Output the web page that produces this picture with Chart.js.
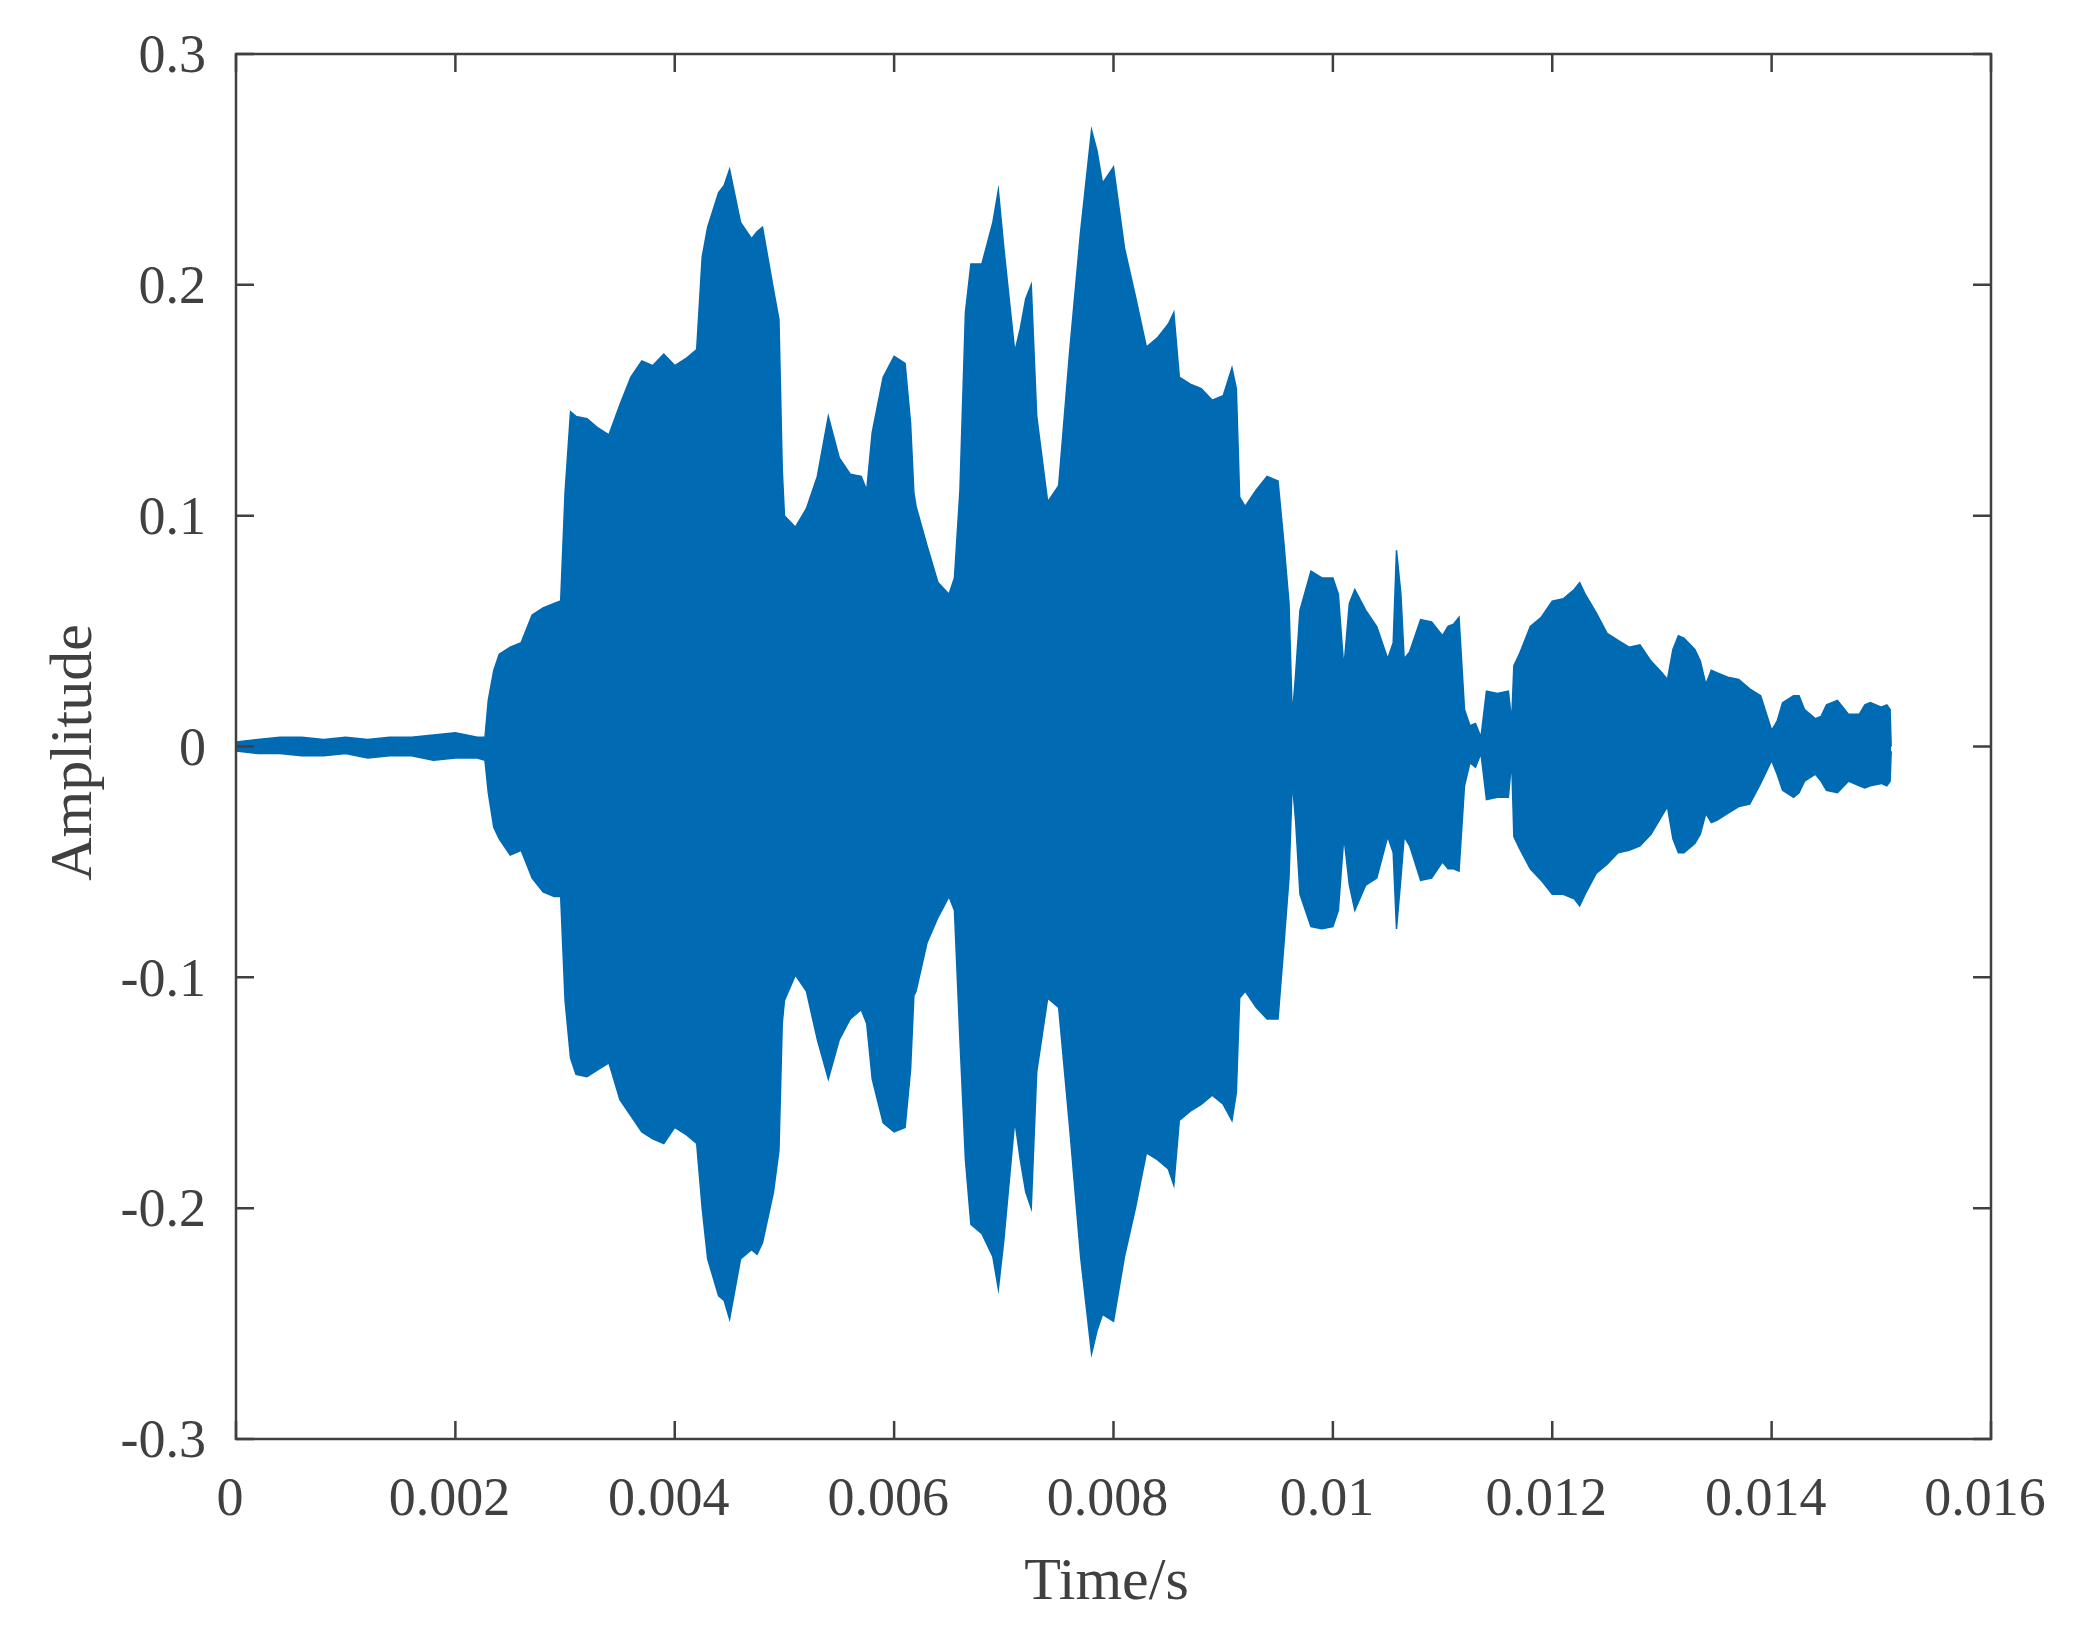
<!DOCTYPE html>
<html>
<head>
<meta charset="utf-8">
<script src="https://cdn.jsdelivr.net/npm/chart.js@4/dist/chart.umd.min.js"></script>
<style>
  html, body { margin: 0; padding: 0; background: #ffffff; }
  canvas { display: block; }
</style>
</head>
<body>
<canvas id="c" width="2091" height="1650"></canvas>
<script>
// Time instants (s) at which the waveform envelope was read
const times = [
  0.0000, 0.0002, 0.0004, 0.0006, 0.0008, 0.0010, 0.0012, 0.0014, 0.0016, 0.0018, 0.0020, 0.0022, 0.00227,
  0.0023, 0.00235, 0.0024, 0.0025, 0.0026, 0.0027, 0.0028, 0.0029, 0.00296, 0.0030, 0.00305,
  0.0031, 0.0032, 0.0033, 0.0034, 0.0035, 0.0036, 0.0037, 0.0038, 0.0039, 0.0040, 0.0041, 0.0042,
  0.00425, 0.0043, 0.0044, 0.00445, 0.0045, 0.0046, 0.0047, 0.00475, 0.0048, 0.0049, 0.00495, 0.00498,
  0.0050, 0.0051, 0.0052, 0.0053, 0.0054, 0.0055, 0.0056, 0.0057, 0.00575, 0.0058, 0.0059, 0.0060,
  0.0061, 0.00615, 0.00618, 0.0062, 0.0063, 0.0064, 0.0065, 0.00655, 0.0066, 0.00665, 0.0067, 0.0068,
  0.0069, 0.00695, 0.0070, 0.0071, 0.00715, 0.0072, 0.00725, 0.0073, 0.0074, 0.0075, 0.0076, 0.0077,
  0.0078, 0.00785, 0.0079, 0.0080, 0.0081, 0.0082, 0.0083, 0.0084, 0.0085, 0.00855, 0.0086, 0.0087,
  0.0088, 0.0089, 0.0090, 0.00908, 0.00912, 0.00915, 0.0092, 0.0093, 0.0094, 0.0095, 0.00955, 0.0096,
  0.00963, 0.00966, 0.0097, 0.0098, 0.0099, 0.0100, 0.01005, 0.0101, 0.01015, 0.0102, 0.0103, 0.0104,
  0.0105, 0.01055, 0.01058, 0.01062, 0.01065, 0.0107, 0.0108, 0.0109, 0.0110, 0.01105, 0.0111, 0.01115,
  0.0112, 0.01125, 0.0113, 0.01135, 0.0114, 0.0115, 0.0116, 0.01163, 0.01165, 0.0117, 0.0118, 0.0119,
  0.0120, 0.0121, 0.0122, 0.01225, 0.0123, 0.0124, 0.0125, 0.0126, 0.0127, 0.0128, 0.0129, 0.0130,
  0.01305, 0.0131, 0.01315, 0.0132, 0.0133, 0.01335, 0.0134, 0.01345, 0.0135, 0.0136, 0.0137, 0.0138,
  0.0139, 0.0140, 0.01405, 0.0141, 0.0142, 0.01425, 0.0143, 0.0144, 0.01445, 0.0145, 0.0146, 0.0147,
  0.0148, 0.01485, 0.0149, 0.0150, 0.01505, 0.01508, 0.01509
];
// Upper envelope of the amplitude
const upper = [
  0.002, 0.003, 0.004, 0.004, 0.003, 0.004, 0.003, 0.004, 0.004, 0.005, 0.006, 0.004, 0.004,
  0.020, 0.033, 0.040, 0.043, 0.045, 0.057, 0.060, 0.062, 0.063, 0.110, 0.145,
  0.143, 0.142, 0.138, 0.135, 0.148, 0.160, 0.167, 0.165, 0.170, 0.165, 0.168, 0.172,
  0.212, 0.225, 0.240, 0.243, 0.250, 0.227, 0.220, 0.223, 0.225, 0.198, 0.185, 0.120,
  0.100, 0.095, 0.103, 0.117, 0.143, 0.125, 0.118, 0.117, 0.111, 0.136, 0.160, 0.169,
  0.166, 0.140, 0.110, 0.104, 0.087, 0.071, 0.066, 0.073, 0.111, 0.188, 0.209, 0.209,
  0.227, 0.241, 0.216, 0.171, 0.181, 0.194, 0.200, 0.143, 0.106, 0.113, 0.171, 0.223,
  0.267, 0.258, 0.244, 0.251, 0.216, 0.195, 0.173, 0.177, 0.183, 0.188, 0.160, 0.157,
  0.155, 0.150, 0.152, 0.164, 0.155, 0.108, 0.104, 0.111, 0.117, 0.115, 0.090, 0.062,
  0.013, 0.031, 0.059, 0.076, 0.073, 0.073, 0.066, 0.034, 0.062, 0.068, 0.059, 0.052,
  0.038, 0.045, 0.085, 0.066, 0.038, 0.041, 0.055, 0.054, 0.048, 0.052, 0.053, 0.056,
  0.016, 0.009, 0.010, 0.004, 0.024, 0.023, 0.024, 0.011, 0.035, 0.040, 0.052, 0.056,
  0.063, 0.064, 0.068, 0.071, 0.066, 0.058, 0.049, 0.046, 0.043, 0.044, 0.037, 0.032,
  0.029, 0.042, 0.048, 0.047, 0.042, 0.037, 0.027, 0.033, 0.032, 0.030, 0.029, 0.025,
  0.022, 0.007, 0.011, 0.019, 0.022, 0.022, 0.016, 0.012, 0.013, 0.018, 0.020, 0.014,
  0.014, 0.018, 0.019, 0.017, 0.018, 0.016, 0.000
];
// Lower envelope of the amplitude
const lower = [
  -0.002, -0.003, -0.003, -0.004, -0.004, -0.003, -0.005, -0.004, -0.004, -0.006, -0.005, -0.005, -0.006,
  -0.020, -0.035, -0.040, -0.047, -0.045, -0.057, -0.063, -0.065, -0.065, -0.110, -0.135,
  -0.142, -0.143, -0.140, -0.137, -0.153, -0.160, -0.167, -0.170, -0.172, -0.165, -0.168, -0.172,
  -0.200, -0.222, -0.238, -0.240, -0.248, -0.222, -0.218, -0.220, -0.215, -0.193, -0.175, -0.120,
  -0.110, -0.099, -0.106, -0.127, -0.144, -0.127, -0.118, -0.114, -0.120, -0.144, -0.163, -0.167,
  -0.165, -0.140, -0.108, -0.106, -0.085, -0.074, -0.065, -0.071, -0.127, -0.179, -0.207, -0.211,
  -0.221, -0.235, -0.214, -0.162, -0.179, -0.193, -0.200, -0.141, -0.109, -0.113, -0.165, -0.221,
  -0.263, -0.253, -0.246, -0.249, -0.221, -0.200, -0.176, -0.179, -0.183, -0.190, -0.162, -0.158,
  -0.155, -0.151, -0.155, -0.162, -0.150, -0.109, -0.106, -0.113, -0.118, -0.118, -0.088, -0.057,
  -0.015, -0.032, -0.064, -0.078, -0.079, -0.078, -0.071, -0.039, -0.060, -0.071, -0.060, -0.057,
  -0.039, -0.046, -0.079, -0.057, -0.039, -0.043, -0.058, -0.057, -0.050, -0.053, -0.053, -0.054,
  -0.017, -0.007, -0.009, -0.003, -0.023, -0.022, -0.022, -0.006, -0.039, -0.044, -0.053, -0.058,
  -0.064, -0.064, -0.066, -0.069, -0.064, -0.055, -0.051, -0.046, -0.045, -0.043, -0.038, -0.030,
  -0.026, -0.040, -0.046, -0.046, -0.042, -0.038, -0.029, -0.033, -0.032, -0.029, -0.026, -0.025,
  -0.016, -0.006, -0.012, -0.019, -0.022, -0.020, -0.015, -0.012, -0.015, -0.019, -0.020, -0.015,
  -0.017, -0.018, -0.017, -0.016, -0.017, -0.015, -0.002
];
// Axis ticks
const xTickValues = [0, 0.002, 0.004, 0.006, 0.008, 0.01, 0.012, 0.014, 0.016];
const xTickLabels = ['0', '0.002', '0.004', '0.006', '0.008', '0.01', '0.012', '0.014', '0.016'];
const yTickValues = [-0.3, -0.2, -0.1, 0, 0.1, 0.2, 0.3];
const yTickLabels = ['-0.3', '-0.2', '-0.1', '0', '0.1', '0.2', '0.3'];
const xTitle = 'Time/s';
const yTitle = 'Amplitude';

const WAVE = '#006AB3';
const INK = '#404040';
const FONT = '"Liberation Serif", "Times New Roman", serif';

const framePlugin = {
  id: 'frame',
  afterDraw(chart) {
    const { ctx, chartArea: a, scales } = chart;
    ctx.save();
    ctx.strokeStyle = INK;
    ctx.lineWidth = 2.5;
    const tl = 18;
    ctx.beginPath();
    scales.x.ticks.forEach(t => {
      const px = scales.x.getPixelForValue(t.value);
      ctx.moveTo(px, a.bottom); ctx.lineTo(px, a.bottom - tl);
      ctx.moveTo(px, a.top); ctx.lineTo(px, a.top + tl);
    });
    scales.y.ticks.forEach(t => {
      const py = scales.y.getPixelForValue(t.value);
      ctx.moveTo(a.left, py); ctx.lineTo(a.left + tl, py);
      ctx.moveTo(a.right, py); ctx.lineTo(a.right - tl, py);
    });
    ctx.stroke();
    ctx.strokeRect(a.left, a.top, a.right - a.left, a.bottom - a.top);
    // axis titles
    ctx.fillStyle = INK;
    ctx.font = '60px ' + FONT;
    ctx.textAlign = 'center';
    ctx.textBaseline = 'alphabetic';
    ctx.fillText(xTitle, (a.left + a.right) / 2 - 7, 1599);
    ctx.translate(91, (a.top + a.bottom) / 2 + 6);
    ctx.rotate(-Math.PI / 2);
    ctx.fillText(yTitle, 0, 0);
    ctx.restore();
  }
};

const tickFont = { family: FONT, size: 54 };

new Chart(document.getElementById('c').getContext('2d'), {
  type: 'line',
  data: {
    datasets: [
      {
        data: times.map((t, i) => ({ x: t, y: upper[i] })),
        borderColor: WAVE, backgroundColor: WAVE, borderWidth: 1.5,
        pointRadius: 0, tension: 0, fill: '+1'
      },
      {
        data: times.map((t, i) => ({ x: t, y: lower[i] })),
        borderColor: WAVE, backgroundColor: WAVE, borderWidth: 1.5,
        pointRadius: 0, tension: 0, fill: false
      }
    ]
  },
  options: {
    responsive: false,
    animation: false,
    devicePixelRatio: 1,
    layout: { padding: { left: 0, right: 100, top: 54, bottom: 0 } },
    plugins: { legend: { display: false }, tooltip: { enabled: false } },
    scales: {
      x: {
        type: 'linear', min: 0, max: 0.016,
        afterBuildTicks: s => { s.ticks = xTickValues.map(v => ({ value: v })); },
        afterFit: s => { s.height = 211; s.paddingLeft = 0; s.paddingRight = 0; },
        grid: { display: false, drawTicks: false },
        border: { display: false },
        ticks: {
          padding: 29, labelOffset: -6, color: INK, font: tickFont, maxRotation: 0, autoSkip: false,
          callback: (v, i) => xTickLabels[i]
        }
      },
      y: {
        type: 'linear', min: -0.3, max: 0.3,
        afterBuildTicks: s => { s.ticks = yTickValues.map(v => ({ value: v })); },
        afterFit: s => { s.width = 236; s.paddingTop = 0; s.paddingBottom = 0; },
        grid: { display: false, drawTicks: false },
        border: { display: false },
        ticks: {
          padding: 30, labelOffset: 4, color: INK, font: tickFont, autoSkip: false,
          callback: (v, i) => yTickLabels[i]
        }
      }
    }
  },
  plugins: [framePlugin]
});
</script>
</body>
</html>
